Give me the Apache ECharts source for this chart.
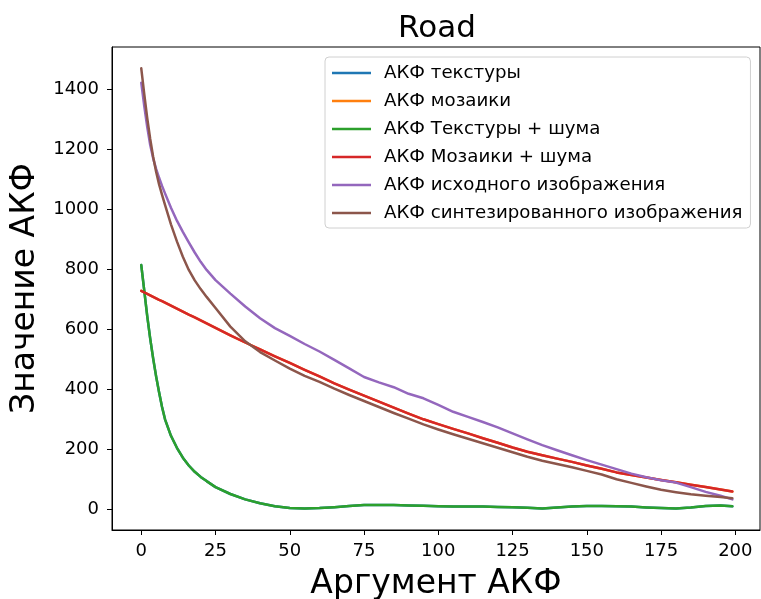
<!DOCTYPE html>
<html>
<head>
<meta charset="utf-8">
<script src="https://cdn.jsdelivr.net/npm/echarts@6/dist/echarts.min.js"></script>
<style>
  html, body { margin: 0; padding: 0; background: #fff; }
  #chart { width: 761px; height: 599px; }
</style>
</head>
<body>
<div id="chart"></div>
<script>
// Lag values (argument of the autocorrelation function)
const lags = [0,1,2,3,4,5,6,7,8,10,12,14,16,18,20,22,25,30,35,40,45,50,55,60,65,70,75,80,85,90,95,100,105,110,115,120,125,130,135,140,145,150,155,160,165,170,175,180,185,190,195,199];

// ACF of the texture (coincides with the texture + noise curve)
const acfTexture = [814,730,645,570,503,443,390,341,300,245,205,172,146,125,108,94,74,51,33,20,10,4,3,4,7,11,14,14,14,13,12,10,9,9,9,8,7,5,3,6,9,11,11,10,9,6,4,3,6,11,13,10];
// ACF of the mosaic (coincides with the mosaic + noise curve)
const acfMosaic = [728,723,718,713,708,703,698,694,689,679,669,659,649,640,630,620,605,580,556,533,510,488,465,443,420,399,379,359,339,319,300,284,268,253,237,222,206,192,180,169,158,146,135,123,114,106,98,90,82,74,66,59];
// ACF of the texture + noise
const acfTextureNoise = [814,730,645,570,503,443,390,341,300,245,205,172,146,125,108,94,74,51,33,20,10,4,3,4,7,11,14,14,14,13,12,10,9,9,9,8,7,5,3,6,9,11,11,10,9,6,4,3,6,11,13,10];
// ACF of the mosaic + noise
const acfMosaicNoise = [728,723,718,713,708,703,698,694,689,679,669,659,649,640,630,620,605,580,556,533,510,488,465,443,420,399,379,359,339,319,300,284,268,253,237,222,206,192,180,169,158,146,135,123,114,106,98,90,82,74,66,59];
// ACF of the source image
const acfSource = [1422,1345,1275,1215,1170,1135,1105,1078,1053,1005,962,925,890,856,825,798,764,719,676,637,604,578,551,526,498,470,441,423,407,385,370,348,325,308,291,273,253,233,214,197,180,164,149,134,119,107,97,89,74,58,45,33];
// ACF of the synthesized image
const acfSynth = [1470,1385,1305,1235,1175,1125,1083,1048,1015,950,893,842,798,763,734,708,671,609,560,524,496,469,445,425,402,381,361,341,321,302,283,266,250,235,220,205,190,175,162,151,140,128,116,100,88,76,65,57,50,45,41,37];

const seriesNames = [
  'АКФ текстуры',
  'АКФ мозаики',
  'АКФ Текстуры + шума',
  'АКФ Мозаики + шума',
  'АКФ исходного изображения',
  'АКФ синтезированного изображения'
];
const seriesValues = [acfTexture, acfMosaic, acfTextureNoise, acfMosaicNoise, acfSource, acfSynth];
const seriesColors = ['#1f77b4', '#ff7f0e', '#2ca02c', '#d62728', '#9467bd', '#8c564b'];

const xTicks = [0, 25, 50, 75, 100, 125, 150, 175, 200];
const yTicks = [0, 200, 400, 600, 800, 1000, 1200, 1400];

const FONT = 'DejaVu Sans';

const chart = echarts.init(document.getElementById('chart'), null, { renderer: 'canvas' });

chart.setOption({
  animation: false,
  backgroundColor: '#fff',
  title: {
    text: 'Road',
    left: 432,
    top: 8,
    textAlign: 'center',
    textStyle: { fontFamily: FONT, fontSize: 31, fontWeight: 'normal', color: '#000' }
  },
  grid: {
    left: 112, top: 47, width: 648, height: 483,
    outerBoundsMode: 'none',
    show: true, borderColor: '#000', borderWidth: 1, backgroundColor: 'transparent'
  },
  legend: {
    orient: 'vertical',
    left: 325, top: 57,
    padding: [6, 8, 5, 7],
    itemGap: 8,
    itemWidth: 39,
    itemHeight: 2.5,
    icon: 'rect',
    data: seriesNames,
    borderColor: '#d0d0d0',
    borderWidth: 1,
    borderRadius: 4,
    backgroundColor: 'rgba(255,255,255,0.8)',
    textStyle: { fontFamily: FONT, fontSize: 18.2, lineHeight: 20, color: '#000', padding: [0, 0, 0, 8] }
  },
  xAxis: {
    type: 'value',
    min: -9.85, max: 208.3,
    name: 'Аргумент АКФ',
    nameLocation: 'middle',
    nameGap: 38,
    nameTextStyle: { fontFamily: FONT, fontSize: 33, color: '#000' },
    splitLine: { show: false },
    axisLine: { show: true, onZero: false, lineStyle: { color: '#000', width: 1 } },
    axisTick: { show: true, length: 5, lineStyle: { color: '#000' }, customValues: xTicks },
    axisLabel: { fontFamily: FONT, fontSize: 18, color: '#000', margin: 12, customValues: xTicks,
                 formatter: v => String(v) }
  },
  yAxis: {
    type: 'value',
    min: -69, max: 1541,
    name: 'Значение АКФ',
    nameLocation: 'middle',
    nameGap: 68,
    nameTextStyle: { fontFamily: FONT, fontSize: 33, color: '#000' },
    splitLine: { show: false },
    axisLine: { show: true, onZero: false, lineStyle: { color: '#000', width: 1 } },
    axisTick: { show: true, length: 5, lineStyle: { color: '#000' }, customValues: yTicks },
    axisLabel: { fontFamily: FONT, fontSize: 18, color: '#000', margin: 13, customValues: yTicks,
                 formatter: v => String(v) }
  },
  series: seriesNames.map((name, i) => ({
    name: name,
    type: 'line',
    data: lags.map((x, j) => [x, seriesValues[i][j]]),
    showSymbol: false,
    smooth: false,
    color: seriesColors[i],
    lineStyle: { color: seriesColors[i], width: 2.5, join: 'round', cap: 'round' }
  }))
});
</script>
</body>
</html>
